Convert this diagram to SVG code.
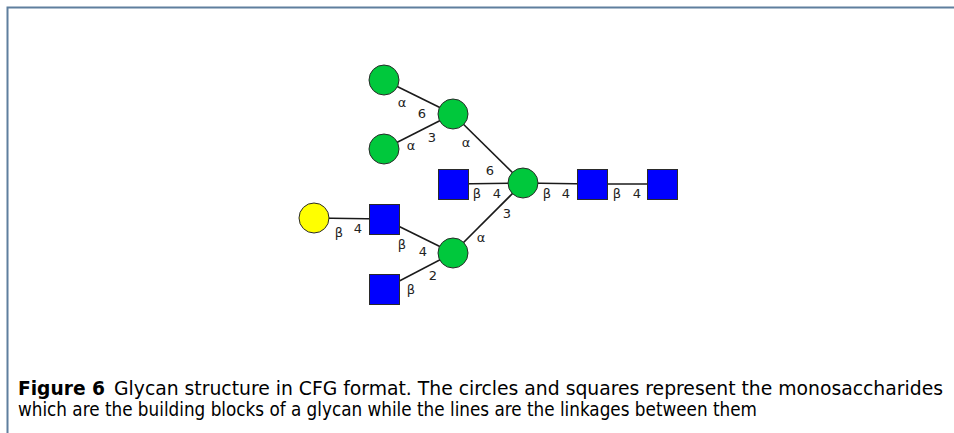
<svg xmlns="http://www.w3.org/2000/svg" width="954" height="433" viewBox="0 0 954 433">
<style>
.g{fill:#00c83c;stroke:#2a2a2a;stroke-width:1}
.b{fill:#0000fe;stroke:#2a2a2a;stroke-width:1}
.y{fill:#ffff00;stroke:#2a2a2a;stroke-width:1}
.e line{stroke:#1a1a1a;stroke-width:1.6}
.l{font-family:"DejaVu Sans",sans-serif;font-size:13px;fill:#222;text-anchor:middle}
.cap{font-family:"DejaVu Sans Condensed","DejaVu Sans",sans-serif;font-size:19px;fill:#000}
</style>
<rect width="954" height="433" fill="#fff"/>
<path d="M7.5 433 V7.5 H954" fill="none" stroke="#5f7f9e" stroke-width="2"/>
<g class="e" id="connectors">
<line x1="384" y1="80" x2="453" y2="114"/>
<line x1="384" y1="149" x2="453" y2="114"/>
<line x1="453" y1="114" x2="523" y2="183"/>
<line x1="453" y1="184" x2="523" y2="183"/>
<line x1="523" y1="183" x2="592" y2="184"/>
<line x1="592" y1="184" x2="662" y2="184"/>
<line x1="453" y1="253" x2="523" y2="183"/>
<line x1="314" y1="218" x2="384" y2="219"/>
<line x1="384" y1="219" x2="453" y2="253"/>
<line x1="384" y1="289" x2="453" y2="253"/>
</g>
<g id="n1"><circle class="g" cx="384" cy="80" r="15"/></g>
<g id="n2"><circle class="g" cx="384" cy="149" r="15"/></g>
<g id="n3"><circle class="g" cx="453" cy="114" r="15"/></g>
<g id="n4"><rect class="b" x="438.5" y="169.5" width="30" height="30"/></g>
<g id="n5"><circle class="g" cx="523" cy="183" r="15"/></g>
<g id="n6"><rect class="b" x="577.5" y="169.5" width="30" height="30"/></g>
<g id="n7"><rect class="b" x="647.5" y="169.5" width="30" height="30"/></g>
<g id="n8"><circle class="y" cx="314" cy="218" r="15"/></g>
<g id="n9"><rect class="b" x="369.5" y="204.5" width="30" height="30"/></g>
<g id="n10"><circle class="g" cx="453" cy="253" r="15"/></g>
<g id="n11"><rect class="b" x="369.5" y="274.5" width="30" height="30"/></g>
<g id="labels">
<text class="l" x="402" y="107">α</text>
<text class="l" x="422" y="118">6</text>
<text class="l" x="432" y="142">3</text>
<text class="l" x="411" y="150">α</text>
<text class="l" x="466" y="147">α</text>
<text class="l" x="490" y="175">6</text>
<text class="l" x="477" y="198">β</text>
<text class="l" x="497" y="198">4</text>
<text class="l" x="507" y="218">3</text>
<text class="l" x="547" y="198">β</text>
<text class="l" x="566" y="198">4</text>
<text class="l" x="617" y="198">β</text>
<text class="l" x="637" y="198">4</text>
<text class="l" x="339" y="237">β</text>
<text class="l" x="358" y="233">4</text>
<text class="l" x="402" y="249">β</text>
<text class="l" x="423" y="256">4</text>
<text class="l" x="481" y="242">α</text>
<text class="l" x="433" y="280">2</text>
<text class="l" x="411" y="294">β</text>
</g>
<text class="cap" x="18" y="395" font-weight="bold" textLength="87" lengthAdjust="spacingAndGlyphs">Figure 6</text>
<text class="cap" x="114" y="395" textLength="829" lengthAdjust="spacingAndGlyphs">Glycan structure in CFG format. The circles and squares represent the monosaccharides</text>
<text class="cap" x="18" y="416" textLength="739" lengthAdjust="spacingAndGlyphs">which are the building blocks of a glycan while the lines are the linkages between them</text>
</svg>
